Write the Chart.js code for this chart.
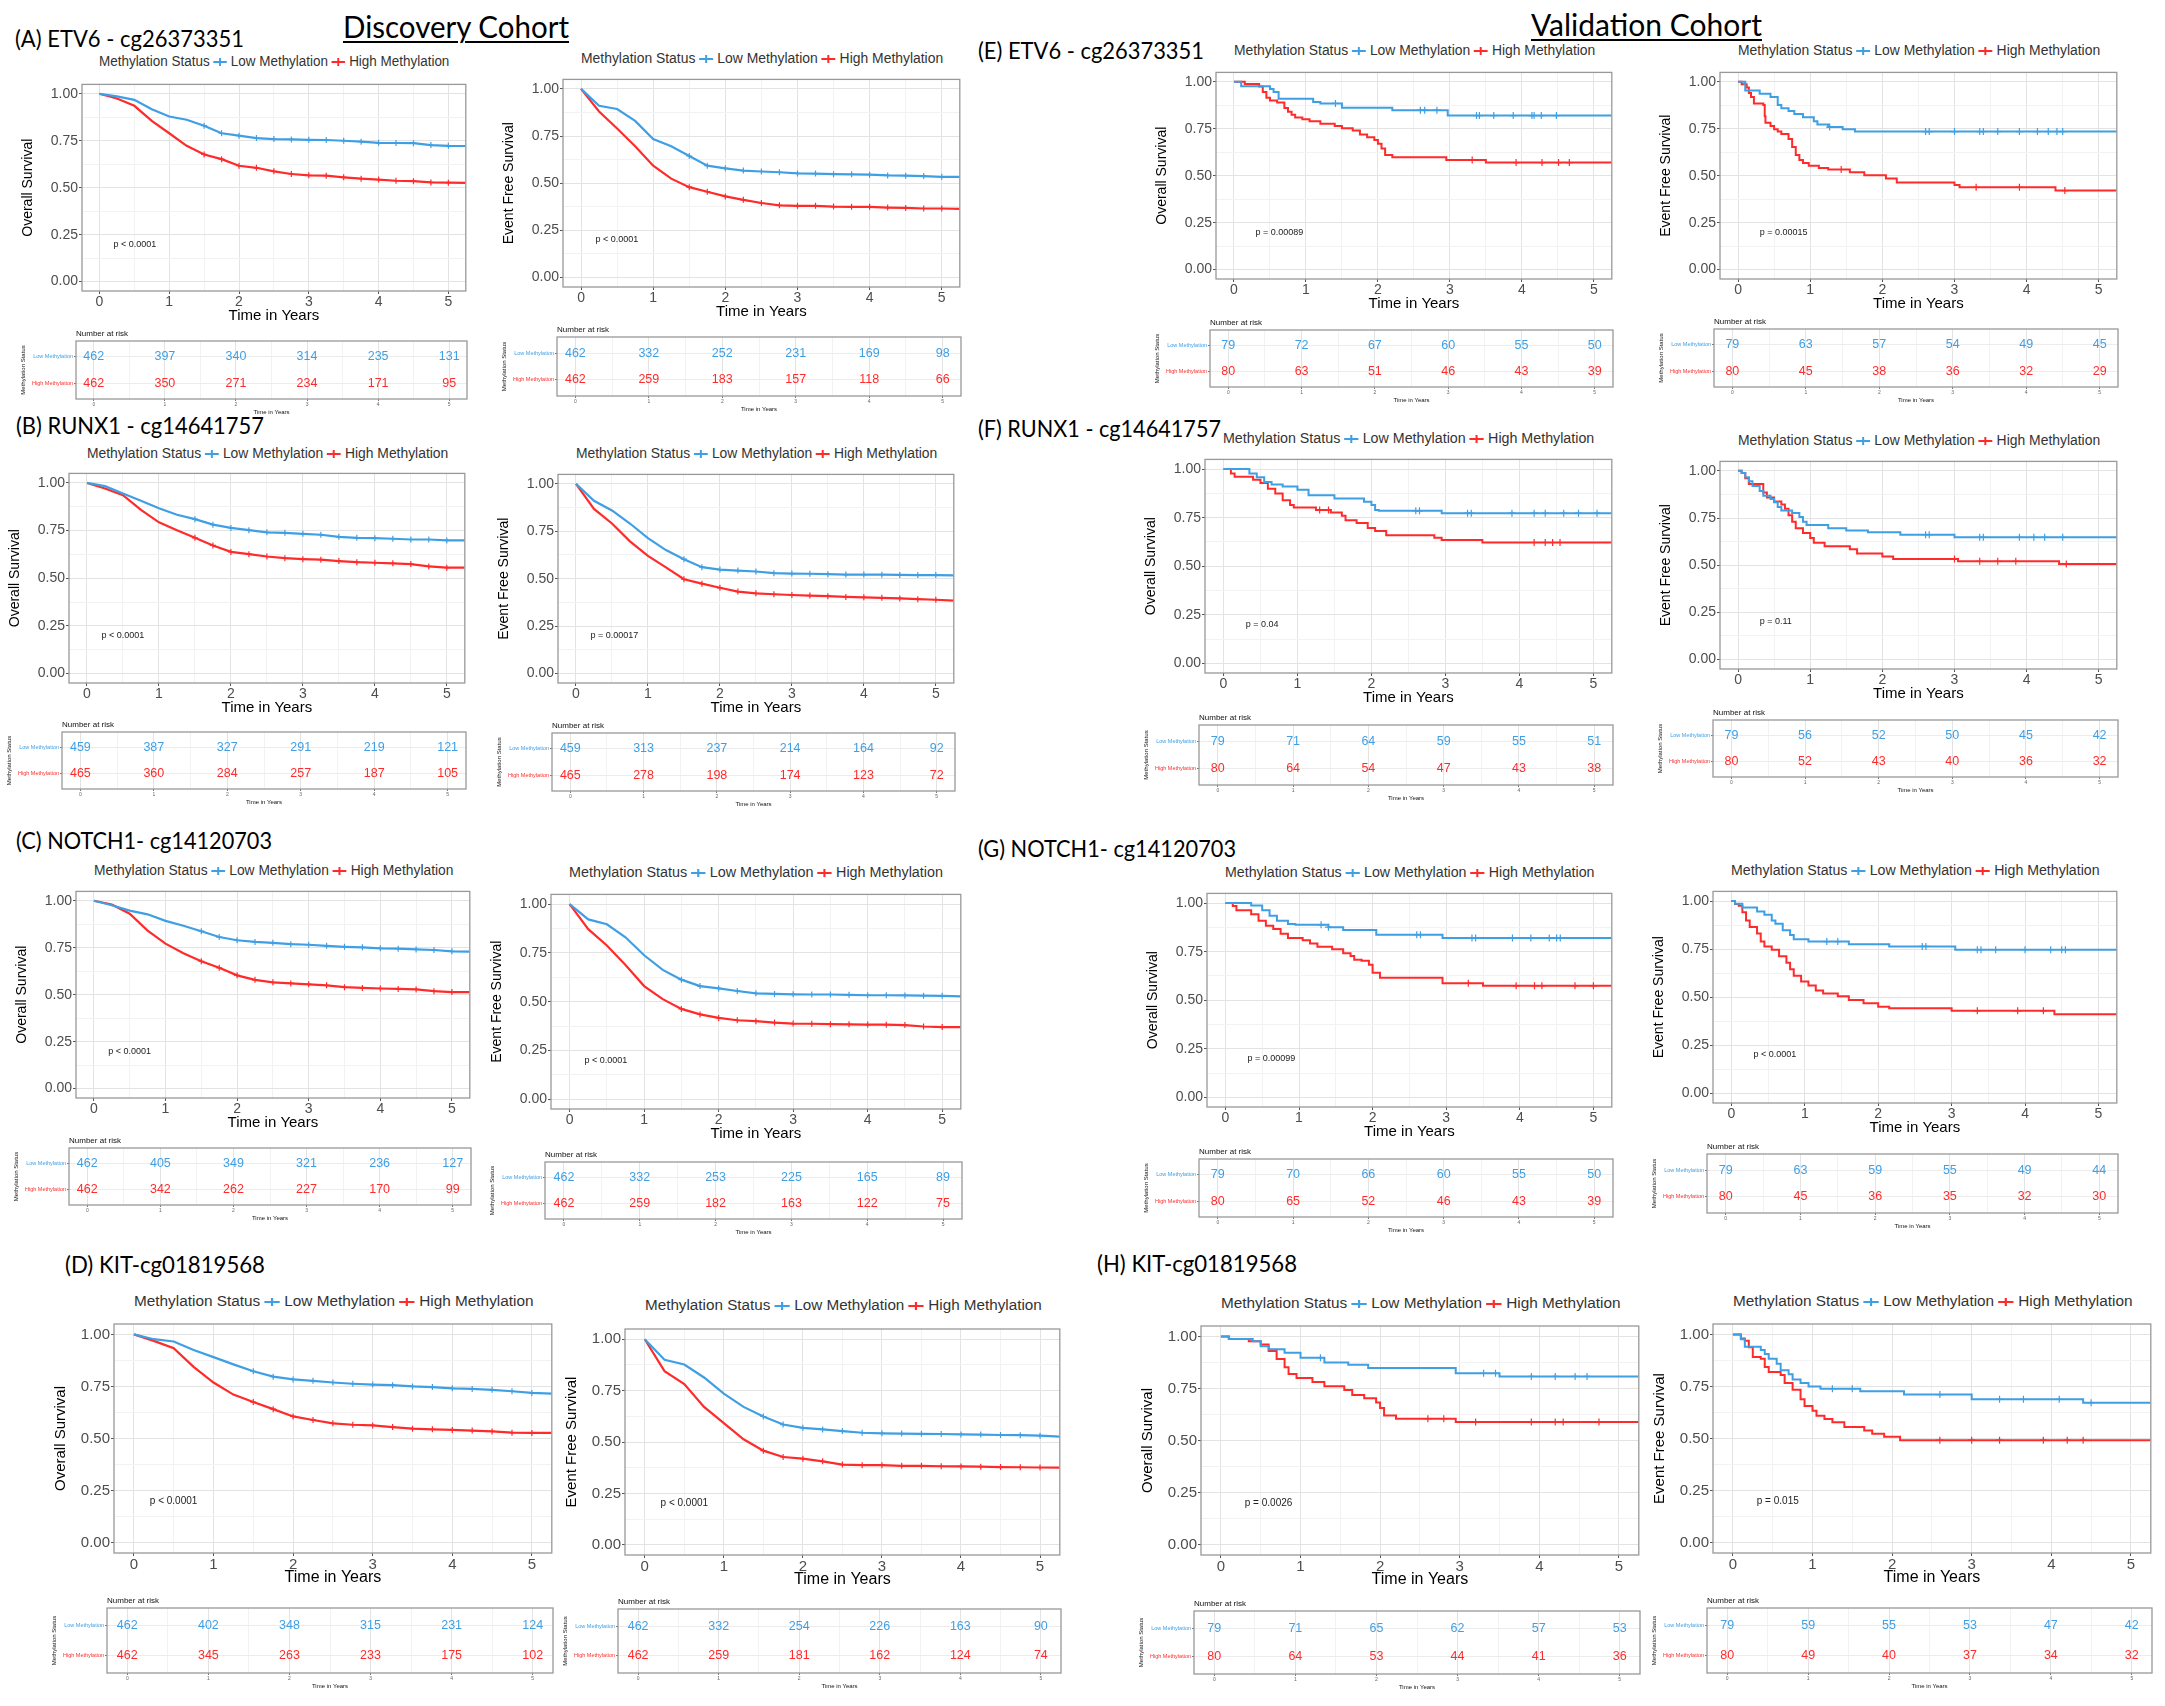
<!DOCTYPE html>
<html>
<head>
<meta charset="utf-8">
<script src="https://cdn.jsdelivr.net/npm/chart.js@4.4.0/dist/chart.umd.min.js"></script>
<style>
  body { margin: 0; background: #fff; width: 2165px; height: 1706px; position: relative; overflow: hidden; }
  .abs { position: absolute; white-space: nowrap; }
  .ptitle { font-family: Lato, "Open Sans", sans-serif; font-size: 24px; line-height: 1; color: #000; }
  .cohort { font-family: Lato, "Open Sans", sans-serif; font-size: 30px; line-height: 1; color: #000; text-decoration: underline; text-decoration-thickness: 2px; text-underline-offset: 3px; }
  .legend { font-family: "Liberation Sans", Arial, sans-serif; font-size: 14px; line-height: 1; color: #333; }
  .key { display: inline-block; position: relative; width: 14px; height: 2px; margin: 0 4px; vertical-align: middle; }
  .key::after { content: ''; position: absolute; left: 6px; top: -3px; width: 2px; height: 8px; background: inherit; }
</style>
</head>
<body>
<script>
var BLUE = '#3f9fe4';
var RED = '#ff2b2b';
var SANS = '"Liberation Sans", Arial, sans-serif';

var years = [0, 1, 2, 3, 4, 5];
var discTimes = [0, 0.25, 0.5, 0.75, 1, 1.25, 1.5, 1.75, 2, 2.25, 2.5, 2.75, 3, 3.25, 3.5, 3.75, 4, 4.25, 4.5, 4.75, 5, 5.25];

// discovery cohort curves, read at discTimes
var etv6OsLow = [1, 0.986, 0.968, 0.918, 0.879, 0.862, 0.83, 0.79, 0.777, 0.764, 0.759, 0.757, 0.755, 0.754, 0.75, 0.745, 0.739, 0.738, 0.737, 0.727, 0.723, 0.722];
var etv6OsHigh = [1, 0.975, 0.936, 0.856, 0.79, 0.723, 0.677, 0.652, 0.617, 0.606, 0.587, 0.573, 0.566, 0.564, 0.555, 0.548, 0.543, 0.537, 0.535, 0.528, 0.527, 0.526];
var etv6EfsLow = [1, 0.91, 0.893, 0.83, 0.734, 0.696, 0.644, 0.593, 0.579, 0.567, 0.562, 0.558, 0.552, 0.551, 0.548, 0.547, 0.545, 0.541, 0.54, 0.538, 0.534, 0.533];
var etv6EfsHigh = [1, 0.88, 0.79, 0.696, 0.593, 0.524, 0.479, 0.455, 0.43, 0.412, 0.395, 0.383, 0.38, 0.38, 0.376, 0.375, 0.375, 0.371, 0.369, 0.366, 0.366, 0.364];
var runx1OsLow = [1, 0.983, 0.945, 0.907, 0.867, 0.833, 0.81, 0.781, 0.764, 0.752, 0.741, 0.738, 0.733, 0.728, 0.717, 0.712, 0.71, 0.707, 0.703, 0.703, 0.698, 0.698];
var runx1OsHigh = [1, 0.971, 0.936, 0.859, 0.793, 0.752, 0.712, 0.672, 0.638, 0.626, 0.614, 0.605, 0.6, 0.597, 0.59, 0.584, 0.581, 0.578, 0.574, 0.562, 0.555, 0.555];
var runx1EfsLow = [1, 0.911, 0.86, 0.791, 0.714, 0.651, 0.603, 0.561, 0.548, 0.543, 0.538, 0.529, 0.527, 0.526, 0.524, 0.522, 0.522, 0.521, 0.52, 0.519, 0.519, 0.518];
var runx1EfsHigh = [1, 0.868, 0.791, 0.697, 0.62, 0.56, 0.497, 0.474, 0.452, 0.432, 0.423, 0.418, 0.414, 0.411, 0.408, 0.404, 0.402, 0.399, 0.396, 0.392, 0.389, 0.384];
var notch1OsLow = [1, 0.976, 0.948, 0.928, 0.893, 0.867, 0.838, 0.807, 0.79, 0.781, 0.776, 0.769, 0.766, 0.76, 0.755, 0.752, 0.747, 0.745, 0.741, 0.738, 0.731, 0.729];
var notch1OsHigh = [1, 0.98, 0.931, 0.841, 0.772, 0.721, 0.678, 0.643, 0.603, 0.579, 0.566, 0.56, 0.555, 0.55, 0.54, 0.536, 0.533, 0.531, 0.528, 0.519, 0.514, 0.514];
var notch1EfsLow = [1, 0.922, 0.897, 0.83, 0.738, 0.663, 0.613, 0.58, 0.568, 0.555, 0.543, 0.54, 0.538, 0.537, 0.537, 0.535, 0.533, 0.533, 0.532, 0.531, 0.53, 0.527];
var notch1EfsHigh = [1, 0.872, 0.788, 0.688, 0.58, 0.513, 0.463, 0.435, 0.417, 0.405, 0.4, 0.393, 0.388, 0.387, 0.385, 0.384, 0.383, 0.382, 0.38, 0.373, 0.37, 0.37];
var kitOsLow = [1, 0.977, 0.966, 0.925, 0.891, 0.856, 0.823, 0.797, 0.784, 0.777, 0.769, 0.763, 0.759, 0.756, 0.75, 0.747, 0.741, 0.738, 0.734, 0.727, 0.719, 0.716];
var kitOsHigh = [1, 0.969, 0.934, 0.844, 0.769, 0.711, 0.675, 0.641, 0.606, 0.589, 0.573, 0.566, 0.563, 0.555, 0.547, 0.544, 0.541, 0.538, 0.534, 0.528, 0.527, 0.527];
var kitEfsLow = [1, 0.9, 0.877, 0.814, 0.735, 0.671, 0.624, 0.585, 0.569, 0.561, 0.553, 0.545, 0.542, 0.541, 0.54, 0.539, 0.537, 0.536, 0.534, 0.533, 0.531, 0.526];
var kitEfsHigh = [1, 0.845, 0.782, 0.671, 0.592, 0.513, 0.458, 0.427, 0.419, 0.406, 0.39, 0.387, 0.387, 0.384, 0.384, 0.382, 0.381, 0.38, 0.378, 0.377, 0.376, 0.375];

// validation cohort curves: step times, survival after each step, censor times
var vEtv6OsLowT = [0, 0.1, 0.5, 0.55, 0.62, 1.1, 1.2, 1.5, 2.2, 2.97, 5.25];
var vEtv6OsLowS = [1, 0.976, 0.962, 0.945, 0.91, 0.893, 0.885, 0.862, 0.849, 0.82, 0.82];
var vEtv6OsLowC = [1.41, 2.59, 2.65, 2.82, 3.37, 3.41, 3.61, 3.88, 4.14, 4.17, 4.27, 4.48];
var vEtv6OsHighT = [0, 0.15, 0.35, 0.4, 0.45, 0.5, 0.6, 0.7, 0.75, 0.8, 0.85, 0.95, 1.05, 1.2, 1.4, 1.5, 1.65, 1.75, 1.85, 1.95, 2.0, 2.05, 2.1, 2.2, 2.95, 3.5, 5.25];
var vEtv6OsHighS = [1, 0.988, 0.975, 0.945, 0.915, 0.9, 0.89, 0.86, 0.84, 0.825, 0.81, 0.8, 0.79, 0.777, 0.765, 0.753, 0.74, 0.72, 0.705, 0.69, 0.67, 0.645, 0.61, 0.598, 0.584, 0.57, 0.57];
var vEtv6OsHighC = [3.31, 3.92, 4.28, 4.51, 4.66];
var vEtv6EfsLowT = [0, 0.1, 0.3, 0.45, 0.55, 0.6, 0.7, 0.78, 0.9, 1.05, 1.1, 1.25, 1.45, 1.62, 5.25];
var vEtv6EfsLowS = [1, 0.954, 0.936, 0.919, 0.876, 0.859, 0.845, 0.828, 0.811, 0.79, 0.773, 0.759, 0.747, 0.735, 0.735];
var vEtv6EfsLowC = [1.27, 2.6, 2.65, 3.0, 3.35, 3.4, 3.6, 3.9, 4.15, 4.3, 4.42, 4.5];
var vEtv6EfsHighT = [0, 0.05, 0.12, 0.15, 0.18, 0.22, 0.35, 0.37, 0.38, 0.45, 0.5, 0.55, 0.6, 0.7, 0.75, 0.8, 0.85, 0.9, 0.98, 1.12, 1.25, 1.55, 1.75, 2.05, 2.2, 3.0, 3.07, 4.4, 5.25];
var vEtv6EfsHighS = [1, 0.987, 0.97, 0.94, 0.919, 0.885, 0.876, 0.816, 0.782, 0.765, 0.747, 0.735, 0.722, 0.696, 0.653, 0.61, 0.584, 0.567, 0.553, 0.541, 0.533, 0.519, 0.502, 0.485, 0.464, 0.45, 0.438, 0.421, 0.421];
var vEtv6EfsHighC = [1.43, 3.3, 3.9, 4.53];

var vRunx1OsLowT = [0, 0.35, 0.45, 0.55, 0.65, 0.8, 1.0, 1.15, 1.5, 1.9, 2.0, 2.05, 2.1, 2.95, 5.25];
var vRunx1OsLowS = [1, 0.978, 0.958, 0.933, 0.921, 0.911, 0.894, 0.866, 0.849, 0.832, 0.815, 0.79, 0.785, 0.773, 0.773];
var vRunx1OsLowC = [2.6, 2.65, 3.3, 3.35, 3.9, 4.2, 4.35, 4.6, 4.8, 5.05];
var vRunx1OsHighT = [0, 0.1, 0.15, 0.4, 0.5, 0.6, 0.7, 0.8, 0.9, 0.95, 1.25, 1.45, 1.6, 1.65, 1.8, 1.95, 2.05, 2.2, 2.85, 2.95, 3.5, 5.25];
var vRunx1OsHighS = [1, 0.978, 0.961, 0.945, 0.928, 0.899, 0.874, 0.84, 0.815, 0.802, 0.79, 0.776, 0.76, 0.736, 0.723, 0.697, 0.681, 0.659, 0.647, 0.635, 0.622, 0.622];
var vRunx1OsHighC = [1.3, 1.42, 4.2, 4.35, 4.45, 4.55];
var vRunx1EfsLowT = [0, 0.05, 0.1, 0.15, 0.2, 0.3, 0.35, 0.45, 0.5, 0.55, 0.6, 0.75, 0.85, 0.9, 0.95, 1.25, 1.5, 1.8, 2.25, 3.0, 5.25];
var vRunx1EfsLowS = [1, 0.988, 0.966, 0.945, 0.919, 0.893, 0.868, 0.851, 0.833, 0.808, 0.79, 0.777, 0.756, 0.73, 0.713, 0.696, 0.684, 0.674, 0.662, 0.648, 0.648];
var vRunx1EfsLowC = [2.6, 2.65, 3.35, 3.4, 3.9, 4.1, 4.25, 4.5];
var vRunx1EfsHighT = [0, 0.05, 0.1, 0.15, 0.35, 0.4, 0.5, 0.6, 0.65, 0.7, 0.75, 0.8, 0.9, 1.0, 1.05, 1.2, 1.55, 1.65, 2.0, 2.15, 3.05, 4.45, 5.25];
var vRunx1EfsHighS = [1, 0.988, 0.961, 0.93, 0.885, 0.859, 0.838, 0.821, 0.799, 0.765, 0.73, 0.696, 0.67, 0.644, 0.619, 0.601, 0.584, 0.562, 0.546, 0.533, 0.521, 0.507, 0.507];
var vRunx1EfsHighC = [3.0, 3.35, 3.6, 3.85, 4.55];

var vNotch1OsLowT = [0, 0.35, 0.5, 0.6, 0.7, 0.85, 0.95, 1.4, 1.6, 2.05, 2.95, 5.25];
var vNotch1OsLowS = [1, 0.988, 0.963, 0.935, 0.909, 0.893, 0.888, 0.876, 0.862, 0.837, 0.82, 0.82];
var vNotch1OsLowC = [1.3, 1.4, 2.6, 2.65, 3.35, 3.4, 3.9, 4.15, 4.4, 4.5, 4.55];
var vNotch1OsHighT = [0, 0.1, 0.15, 0.35, 0.45, 0.55, 0.65, 0.75, 0.85, 1.05, 1.15, 1.25, 1.45, 1.6, 1.7, 1.75, 1.85, 1.95, 2.0, 2.1, 2.95, 3.5, 5.25];
var vNotch1OsHighS = [1, 0.985, 0.963, 0.943, 0.909, 0.884, 0.867, 0.842, 0.82, 0.809, 0.792, 0.775, 0.762, 0.742, 0.728, 0.708, 0.703, 0.683, 0.641, 0.616, 0.587, 0.574, 0.574];
var vNotch1OsHighC = [3.3, 3.95, 4.2, 4.3, 4.75, 5.0];
var vNotch1EfsLowT = [0, 0.05, 0.15, 0.35, 0.45, 0.55, 0.6, 0.7, 0.8, 0.85, 1.05, 1.6, 2.15, 3.05, 5.25];
var vNotch1EfsLowS = [1, 0.986, 0.966, 0.946, 0.929, 0.899, 0.882, 0.848, 0.823, 0.801, 0.789, 0.775, 0.764, 0.747, 0.747];
var vNotch1EfsLowC = [1.3, 1.45, 2.6, 2.65, 3.35, 3.4, 3.6, 4.0, 4.35, 4.5, 4.55];
var vNotch1EfsHighT = [0, 0.05, 0.1, 0.15, 0.2, 0.25, 0.35, 0.4, 0.45, 0.55, 0.65, 0.75, 0.8, 0.85, 0.95, 1.05, 1.15, 1.25, 1.45, 1.6, 1.8, 2.0, 2.15, 3.0, 4.4, 5.25];
var vNotch1EfsHighS = [1, 0.985, 0.975, 0.941, 0.899, 0.865, 0.831, 0.789, 0.764, 0.747, 0.713, 0.679, 0.645, 0.611, 0.581, 0.561, 0.535, 0.519, 0.505, 0.485, 0.468, 0.451, 0.443, 0.429, 0.412, 0.412];
var vNotch1EfsHighC = [3.35, 3.9, 4.25];

var vKitOsLowT = [0, 0.1, 0.4, 0.5, 0.6, 0.8, 1.0, 1.3, 1.6, 1.85, 2.95, 3.5, 5.25];
var vKitOsLowS = [1, 0.988, 0.977, 0.953, 0.938, 0.922, 0.898, 0.875, 0.864, 0.848, 0.823, 0.808, 0.808];
var vKitOsLowC = [1.25, 3.3, 3.45, 3.9, 4.2, 4.45, 4.6];
var vKitOsHighT = [0, 0.1, 0.35, 0.5, 0.6, 0.7, 0.8, 0.85, 0.95, 1.15, 1.3, 1.55, 1.65, 1.8, 1.95, 2.0, 2.05, 2.2, 2.95, 5.25];
var vKitOsHighS = [1, 0.988, 0.977, 0.961, 0.93, 0.891, 0.852, 0.82, 0.8, 0.781, 0.761, 0.742, 0.719, 0.703, 0.683, 0.656, 0.62, 0.605, 0.589, 0.589];
var vKitOsHighC = [2.6, 2.8, 3.2, 3.9, 4.2, 4.3, 4.75];
var vKitEfsLowT = [0, 0.1, 0.15, 0.35, 0.4, 0.45, 0.55, 0.6, 0.7, 0.75, 0.85, 0.95, 1.1, 1.6, 2.15, 3.0, 4.4, 5.25];
var vKitEfsLowS = [1, 0.977, 0.941, 0.925, 0.906, 0.883, 0.859, 0.828, 0.809, 0.784, 0.766, 0.75, 0.739, 0.727, 0.711, 0.688, 0.672, 0.672];
var vKitEfsLowC = [1.25, 1.5, 2.6, 3.35, 3.65, 4.1, 4.5];
var vKitEfsHighT = [0, 0.1, 0.15, 0.2, 0.25, 0.35, 0.4, 0.45, 0.6, 0.65, 0.75, 0.85, 0.9, 1.0, 1.05, 1.15, 1.25, 1.4, 1.65, 1.75, 1.9, 2.1, 5.25];
var vKitEfsHighS = [1, 0.98, 0.969, 0.938, 0.891, 0.883, 0.844, 0.82, 0.805, 0.766, 0.734, 0.688, 0.656, 0.633, 0.609, 0.594, 0.578, 0.555, 0.539, 0.523, 0.508, 0.492, 0.492];
var vKitEfsHighC = [2.6, 3.0, 3.35, 3.9, 4.2, 4.4];

// number at risk at years 0..5
var riskEtv6OsLow = [462, 397, 340, 314, 235, 131], riskEtv6OsHigh = [462, 350, 271, 234, 171, 95];
var riskEtv6EfsLow = [462, 332, 252, 231, 169, 98], riskEtv6EfsHigh = [462, 259, 183, 157, 118, 66];
var riskRunx1OsLow = [459, 387, 327, 291, 219, 121], riskRunx1OsHigh = [465, 360, 284, 257, 187, 105];
var riskRunx1EfsLow = [459, 313, 237, 214, 164, 92], riskRunx1EfsHigh = [465, 278, 198, 174, 123, 72];
var riskNotch1OsLow = [462, 405, 349, 321, 236, 127], riskNotch1OsHigh = [462, 342, 262, 227, 170, 99];
var riskNotch1EfsLow = [462, 332, 253, 225, 165, 89], riskNotch1EfsHigh = [462, 259, 182, 163, 122, 75];
var riskKitOsLow = [462, 402, 348, 315, 231, 124], riskKitOsHigh = [462, 345, 263, 233, 175, 102];
var riskKitEfsLow = [462, 332, 254, 226, 163, 90], riskKitEfsHigh = [462, 259, 181, 162, 124, 74];
var vRiskEtv6OsLow = [79, 72, 67, 60, 55, 50], vRiskEtv6OsHigh = [80, 63, 51, 46, 43, 39];
var vRiskEtv6EfsLow = [79, 63, 57, 54, 49, 45], vRiskEtv6EfsHigh = [80, 45, 38, 36, 32, 29];
var vRiskRunx1OsLow = [79, 71, 64, 59, 55, 51], vRiskRunx1OsHigh = [80, 64, 54, 47, 43, 38];
var vRiskRunx1EfsLow = [79, 56, 52, 50, 45, 42], vRiskRunx1EfsHigh = [80, 52, 43, 40, 36, 32];
var vRiskNotch1OsLow = [79, 70, 66, 60, 55, 50], vRiskNotch1OsHigh = [80, 65, 52, 46, 43, 39];
var vRiskNotch1EfsLow = [79, 63, 59, 55, 49, 44], vRiskNotch1EfsHigh = [80, 45, 36, 35, 32, 30];
var vRiskKitOsLow = [79, 71, 65, 62, 57, 53], vRiskKitOsHigh = [80, 64, 53, 44, 41, 36];
var vRiskKitEfsLow = [79, 59, 55, 53, 47, 42], vRiskKitEfsHigh = [80, 49, 40, 37, 34, 32];

var panelTitles = ['(A) ETV6 - cg26373351', '(B) RUNX1 - cg14641757', '(C) NOTCH1- cg14120703', '(D) KIT-cg01819568',
                   '(E) ETV6 - cg26373351', '(F) RUNX1 - cg14641757', '(G) NOTCH1- cg14120703', '(H) KIT-cg01819568'];

function disc(s) { return { t: discTimes, s: s, cens: null, step: false }; }
function val(t, s, c) { return { t: t, s: s, cens: c, step: true }; }

var OS = 'Overall Survival', EFS = 'Event Free Survival';
var panels = [
  { box: [82, 79, 467, 291], tbl: [76, 341, 467, 399], leg: 61, yTitle: OS, low: disc(etv6OsLow), high: disc(etv6OsHigh), rl: riskEtv6OsLow, rh: riskEtv6OsHigh, p: 'p < 0.0001', px: 0.2 },
  { box: [563, 74, 961, 287], tbl: [557, 337, 961, 396], leg: 58, yTitle: EFS, low: disc(etv6EfsLow), high: disc(etv6EfsHigh), rl: riskEtv6EfsLow, rh: riskEtv6EfsHigh, p: 'p < 0.0001', px: 0.2 },
  { box: [1216, 67, 1613, 279], tbl: [1210, 330, 1613, 387], leg: 50, yTitle: OS, low: val(vEtv6OsLowT, vEtv6OsLowS, vEtv6OsLowC), high: val(vEtv6OsHighT, vEtv6OsHighS, vEtv6OsHighC), rl: vRiskEtv6OsLow, rh: vRiskEtv6OsHigh, p: 'p = 0.00089', px: 0.3 },
  { box: [1720, 67, 2118, 279], tbl: [1714, 329, 2118, 387], leg: 50, yTitle: EFS, low: val(vEtv6EfsLowT, vEtv6EfsLowS, vEtv6EfsLowC), high: val(vEtv6EfsHighT, vEtv6EfsHighS, vEtv6EfsHighC), rl: vRiskEtv6EfsLow, rh: vRiskEtv6EfsHigh, p: 'p = 0.00015', px: 0.3 },

  { box: [69, 468, 466, 683], tbl: [62, 732, 466, 789], leg: 453, yTitle: OS, low: disc(runx1OsLow), high: disc(runx1OsHigh), rl: riskRunx1OsLow, rh: riskRunx1OsHigh, p: 'p < 0.0001', px: 0.2 },
  { box: [558, 469, 955, 683], tbl: [552, 733, 955, 791], leg: 453, yTitle: EFS, low: disc(runx1EfsLow), high: disc(runx1EfsHigh), rl: riskRunx1EfsLow, rh: riskRunx1EfsHigh, p: 'p = 0.00017', px: 0.2 },
  { box: [1205, 454, 1613, 673], tbl: [1199, 725, 1613, 785], leg: 438, yTitle: OS, low: val(vRunx1OsLowT, vRunx1OsLowS, vRunx1OsLowC), high: val(vRunx1OsHighT, vRunx1OsHighS, vRunx1OsHighC), rl: vRiskRunx1OsLow, rh: vRiskRunx1OsHigh, p: 'p = 0.04', px: 0.3 },
  { box: [1720, 456, 2118, 669], tbl: [1713, 720, 2118, 777], leg: 440, yTitle: EFS, low: val(vRunx1EfsLowT, vRunx1EfsLowS, vRunx1EfsLowC), high: val(vRunx1EfsHighT, vRunx1EfsHighS, vRunx1EfsHighC), rl: vRiskRunx1EfsLow, rh: vRiskRunx1EfsHigh, p: 'p = 0.11', px: 0.3 },

  { box: [76, 886, 471, 1098], tbl: [69, 1148, 471, 1205], leg: 870, yTitle: OS, low: disc(notch1OsLow), high: disc(notch1OsHigh), rl: riskNotch1OsLow, rh: riskNotch1OsHigh, p: 'p < 0.0001', px: 0.2 },
  { box: [551, 889, 962, 1109], tbl: [545, 1162, 962, 1219], leg: 872, yTitle: EFS, low: disc(notch1EfsLow), high: disc(notch1EfsHigh), rl: riskNotch1EfsLow, rh: riskNotch1EfsHigh, p: 'p < 0.0001', px: 0.2 },
  { box: [1207, 888, 1613, 1107], tbl: [1199, 1159, 1613, 1217], leg: 872, yTitle: OS, low: val(vNotch1OsLowT, vNotch1OsLowS, vNotch1OsLowC), high: val(vNotch1OsHighT, vNotch1OsHighS, vNotch1OsHighC), rl: vRiskNotch1OsLow, rh: vRiskNotch1OsHigh, p: 'p = 0.00099', px: 0.3 },
  { box: [1713, 886, 2118, 1103], tbl: [1707, 1154, 2118, 1213], leg: 870, yTitle: EFS, low: val(vNotch1EfsLowT, vNotch1EfsLowS, vNotch1EfsLowC), high: val(vNotch1EfsHighT, vNotch1EfsHighS, vNotch1EfsHighC), rl: vRiskNotch1EfsLow, rh: vRiskNotch1EfsHigh, p: 'p < 0.0001', px: 0.3 },

  { box: [114, 1318, 553, 1553], tbl: [107, 1608, 553, 1673], leg: 1301, yTitle: OS, low: disc(kitOsLow), high: disc(kitOsHigh), rl: riskKitOsLow, rh: riskKitOsHigh, p: 'p < 0.0001', px: 0.2, fs: 15 },
  { box: [625, 1323, 1061, 1555], tbl: [618, 1609, 1061, 1673], leg: 1305, yTitle: EFS, low: disc(kitEfsLow), high: disc(kitEfsHigh), rl: riskKitEfsLow, rh: riskKitEfsHigh, p: 'p < 0.0001', px: 0.2, fs: 15 },
  { box: [1201, 1320, 1640, 1555], tbl: [1194, 1611, 1640, 1674], leg: 1303, yTitle: OS, low: val(vKitOsLowT, vKitOsLowS, vKitOsLowC), high: val(vKitOsHighT, vKitOsHighS, vKitOsHighC), rl: vRiskKitOsLow, rh: vRiskKitOsHigh, p: 'p = 0.0026', px: 0.3, fs: 15 },
  { box: [1713, 1318, 2152, 1553], tbl: [1707, 1608, 2152, 1673], leg: 1301, yTitle: EFS, low: val(vKitEfsLowT, vKitEfsLowS, vKitEfsLowC), high: val(vKitEfsHighT, vKitEfsHighS, vKitEfsHighC), rl: vRiskKitEfsLow, rh: vRiskKitEfsHigh, p: 'p = 0.015', px: 0.3, fs: 15 }
];

// where the texts sit: [left, centre y, width]
var titleSpots = [[15, 38, 229], [16, 425, 248], [16, 840, 256], [65, 1264, 200],
                  [978, 50, 226], [978, 428, 243], [978, 848, 258], [1097, 1263, 200]];

var fitList = [];
function addText(cls, html, left, cy, width) {
  var d = document.createElement('div');
  d.className = 'abs ' + cls;
  d.innerHTML = html;
  d.style.left = left + 'px';
  d.style.top = cy + 'px';
  d.style.transformOrigin = 'left center';
  document.body.appendChild(d);
  fitList.push([d, width]);
}
function fitAll() {
  fitList.forEach(function (f) {
    var d = f[0];
    d.style.transform = 'none';
    var w = d.getBoundingClientRect().width;
    d.style.transform = 'translateY(-50%) scaleX(' + (f[1] / w) + ')';
  });
}

function stepAt(c, t) {
  var v = c.s[0];
  for (var i = 0; i < c.t.length; i++) if (c.t[i] <= t) v = c.s[i];
  return v;
}

function curveSets(c, color) {
  var pts = c.t.map(function (t, i) { return { x: t, y: c.s[i] }; });
  var sets = [{
    data: pts, showLine: true, stepped: c.step, tension: 0,
    borderColor: color, borderWidth: c.step ? 2 : 2.2, pointRadius: 0
  }];
  // censor marks: listed times for validation, the read points past 1.5 y for discovery
  var marks = c.cens ? c.cens.map(function (t) { return { x: t, y: stepAt(c, t) }; })
                     : pts.filter(function (q) { return q.x >= 1.5 && q.x < 5.2; });
  sets.push({
    data: marks, showLine: false, pointStyle: 'cross', pointRadius: c.cens ? 3.5 : 3,
    borderColor: color, backgroundColor: color, borderWidth: 1.2
  });
  return sets;
}

var frame = {
  id: 'frame',
  afterDatasetsDraw: function (chart) {
    var a = chart.chartArea, ctx = chart.ctx;
    ctx.save();
    ctx.strokeStyle = '#999';
    ctx.lineWidth = 1.3;
    ctx.strokeRect(a.left, a.top, a.right - a.left, a.bottom - a.top);
    ctx.restore();
  }
};

function makeCanvas(left, top, w, h) {
  var wrap = document.createElement('div');
  wrap.className = 'abs';
  wrap.style.left = left + 'px';
  wrap.style.top = top + 'px';
  wrap.style.width = w + 'px';
  wrap.style.height = h + 'px';
  var cv = document.createElement('canvas');
  wrap.appendChild(cv);
  document.body.appendChild(wrap);
  return cv;
}

function gridCol(major) { return major ? '#e3e3e3' : '#f2f2f2'; }

function kmChart(p) {
  var YW = 64, XH = 36, PT = 4, PR = 4, fs = p.fs || 14;
  var b = p.box;
  var cv = makeCanvas(b[0] - YW, b[1] - PT, b[2] - b[0] + YW + PR, b[3] - b[1] + PT + XH);
  var pval = {
    id: 'pval',
    afterDatasetsDraw: function (chart) {
      var ctx = chart.ctx;
      ctx.save();
      ctx.fillStyle = '#222';
      ctx.font = (fs - 5) + 'px ' + SANS;
      ctx.textAlign = 'left';
      ctx.textBaseline = 'middle';
      ctx.fillText(p.p, chart.scales.x.getPixelForValue(p.px), chart.scales.y.getPixelForValue(0.2));
      ctx.restore();
    }
  };
  new Chart(cv, {
    type: 'scatter',
    data: { datasets: curveSets(p.low, BLUE).concat(curveSets(p.high, RED)) },
    options: {
      responsive: true, maintainAspectRatio: false, animation: false, events: [],
      layout: { padding: { top: PT, right: PR, left: 0, bottom: 0 } },
      plugins: { legend: { display: false }, tooltip: { enabled: false } },
      scales: {
        x: {
          type: 'linear', min: -0.25, max: 5.25,
          afterBuildTicks: function (s) { s.ticks = [0, 0.5, 1, 1.5, 2, 2.5, 3, 3.5, 4, 4.5, 5].map(function (v) { return { value: v }; }); },
          afterFit: function (s) { s.height = XH; },
          ticks: { autoSkip: false, maxRotation: 0, padding: 0, color: '#4d4d4d', font: { family: SANS, size: fs },
                   callback: function (v) { return Number.isInteger(v) ? String(v) : ''; } },
          grid: { color: function (c) { return gridCol(Number.isInteger(c.tick.value)); }, lineWidth: 1, tickLength: 3,
                  tickColor: function (c) { return Number.isInteger(c.tick.value) ? '#555' : 'rgba(0,0,0,0)'; } },
          border: { display: false },
          title: { display: true, text: 'Time in Years', color: '#000', font: { family: SANS, size: fs + 1 }, padding: { top: 0, bottom: 2 } }
        },
        y: {
          type: 'linear', min: -0.05, max: 1.05,
          afterBuildTicks: function (s) { s.ticks = [0, 0.125, 0.25, 0.375, 0.5, 0.625, 0.75, 0.875, 1].map(function (v) { return { value: v }; }); },
          afterFit: function (s) { s.width = YW; },
          ticks: { autoSkip: false, padding: 1, color: '#4d4d4d', font: { family: SANS, size: fs },
                   callback: function (v) { return Number.isInteger(v * 4) ? v.toFixed(2) : ''; } },
          grid: { color: function (c) { return gridCol(Number.isInteger(c.tick.value * 4)); }, lineWidth: 1, tickLength: 3,
                  tickColor: function (c) { return Number.isInteger(c.tick.value * 4) ? '#555' : 'rgba(0,0,0,0)'; } },
          border: { display: false },
          title: { display: true, text: p.yTitle, color: '#000', font: { family: SANS, size: fs }, padding: { top: 2, bottom: 0 } }
        }
      }
    },
    plugins: [frame, pval]
  });
}

function riskChart(p) {
  var YW = 58, XH = 18, PT = 16, PR = 2;
  var b = p.tbl;
  var cv = makeCanvas(b[0] - YW, b[1] - PT, b[2] - b[0] + YW + PR, b[3] - b[1] + PT + XH);
  var numbers = {
    id: 'numbers',
    afterDatasetsDraw: function (chart) {
      var x = chart.scales.x, y = chart.scales.y, ctx = chart.ctx, a = chart.chartArea;
      ctx.save();
      ctx.font = '12.5px ' + SANS;
      ctx.textAlign = 'center';
      ctx.textBaseline = 'middle';
      years.forEach(function (yr, i) {
        ctx.fillStyle = BLUE;
        ctx.fillText(String(p.rl[i]), x.getPixelForValue(yr), y.getPixelForValue(2));
        ctx.fillStyle = RED;
        ctx.fillText(String(p.rh[i]), x.getPixelForValue(yr), y.getPixelForValue(1));
      });
      ctx.fillStyle = '#111';
      ctx.font = '8px ' + SANS;
      ctx.textAlign = 'left';
      ctx.textBaseline = 'bottom';
      ctx.fillText('Number at risk', a.left, a.top - 3);
      ctx.restore();
    }
  };
  new Chart(cv, {
    type: 'scatter',
    data: { datasets: [] },
    options: {
      responsive: true, maintainAspectRatio: false, animation: false, events: [],
      layout: { padding: { top: PT, right: PR, left: 0, bottom: 0 } },
      plugins: { legend: { display: false }, tooltip: { enabled: false } },
      scales: {
        x: {
          type: 'linear', min: -0.25, max: 5.25,
          afterBuildTicks: function (s) { s.ticks = [0, 0.5, 1, 1.5, 2, 2.5, 3, 3.5, 4, 4.5, 5].map(function (v) { return { value: v }; }); },
          afterFit: function (s) { s.height = XH; },
          ticks: { autoSkip: false, maxRotation: 0, padding: 1, color: '#666', font: { family: SANS, size: 5 },
                   callback: function (v) { return Number.isInteger(v) ? String(v) : ''; } },
          grid: { color: function (c) { return gridCol(Number.isInteger(c.tick.value)); }, tickLength: 2,
                  tickColor: function (c) { return Number.isInteger(c.tick.value) ? '#777' : 'rgba(0,0,0,0)'; } },
          border: { display: false },
          title: { display: true, text: 'Time in Years', color: '#111', font: { family: SANS, size: 6 }, padding: { top: 0, bottom: 1 } }
        },
        y: {
          type: 'linear', min: 0.4, max: 2.6,
          afterBuildTicks: function (s) { s.ticks = [{ value: 1 }, { value: 2 }]; },
          afterFit: function (s) { s.width = YW; },
          ticks: { autoSkip: false, padding: 1, font: { family: SANS, size: 5.5 },
                   color: function (c) { return c.tick.value === 2 ? BLUE : RED; },
                   callback: function (v) { return v === 2 ? 'Low Methylation' : 'High Methylation'; } },
          grid: { color: '#ececec', tickLength: 2, tickColor: '#777' },
          border: { display: false },
          title: { display: true, text: 'Methylation Status', color: '#111', font: { family: SANS, size: 6 }, padding: { top: 2, bottom: 0 } }
        }
      }
    },
    plugins: [frame, numbers]
  });
}

addText('cohort', 'Discovery Cohort', 343, 26, 226);
addText('cohort', 'Validation Cohort', 1531, 24, 231);
panelTitles.forEach(function (t, i) { addText('ptitle', t, titleSpots[i][0], titleSpots[i][1], titleSpots[i][2]); });

var legendHtml = 'Methylation Status<span class="key" style="background:' + BLUE + '"></span>Low Methylation' +
                 '<span class="key" style="background:' + RED + '"></span>High Methylation';
panels.forEach(function (p) {
  var w = (p.box[2] - p.box[0]) * 0.91;
  addText('legend', legendHtml, (p.box[0] + p.box[2]) / 2 - w / 2, p.leg, w);
  kmChart(p);
  riskChart(p);
});

fitAll();
window.addEventListener('load', fitAll);
if (document.fonts && document.fonts.ready) document.fonts.ready.then(fitAll);
</script>
</body>
</html>
